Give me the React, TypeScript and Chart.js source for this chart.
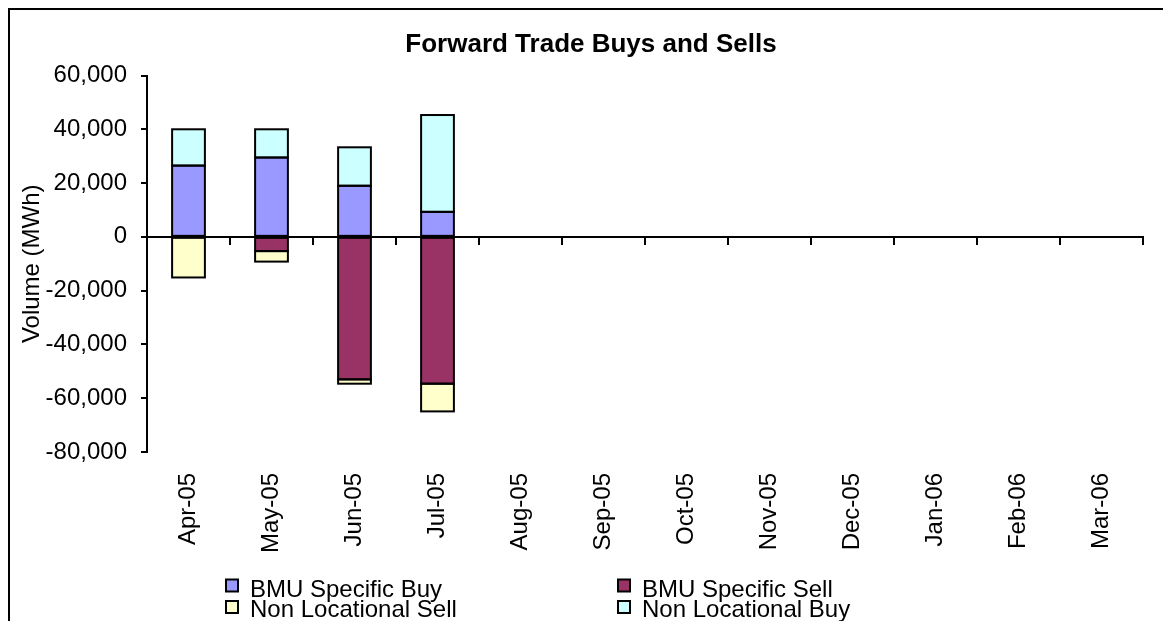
import React, { useEffect, useRef } from 'react';
import { Chart, registerables } from 'chart.js';

Chart.register(...registerables);

const chartTitle = 'Forward Trade Buys and Sells';
const yAxisTitle = 'Volume (MWh)';
const months = ['Apr-05', 'May-05', 'Jun-05', 'Jul-05', 'Aug-05', 'Sep-05', 'Oct-05', 'Nov-05', 'Dec-05', 'Jan-06', 'Feb-06', 'Mar-06'];
const bmuSpecificBuy = [26500, 29500, 19000, 9300, null, null, null, null, null, null, null, null];
const bmuSpecificSell = [0, -5300, -53000, -54600, null, null, null, null, null, null, null, null];
const nonLocationalSell = [-15100, -3900, -1600, -10300, null, null, null, null, null, null, null, null];
const nonLocationalBuy = [13500, 10500, 14300, 36000, null, null, null, null, null, null, null, null];
const seriesNames = ['BMU Specific Buy', 'BMU Specific Sell', 'Non Locational Sell', 'Non Locational Buy'];
const seriesColors = ['#9999FF', '#993366', '#FFFFCC', '#CCFFFF'];
const yMin = -80000;
const yMax = 60000;
const yStep = 20000;

const FONT = "'Liberation Sans', Arial, sans-serif";

const decorPlugin = {
  id: 'decor',
  beforeDraw(chart: any) {
    const ctx = chart.ctx;
    ctx.save();
    ctx.fillStyle = '#000';
    ctx.fillRect(0, 0, 2, chart.height);
    ctx.fillRect(0, 0, chart.width, 2);
    ctx.font = `bold 26px ${FONT}`;
    ctx.textAlign = 'center';
    ctx.textBaseline = 'alphabetic';
    ctx.fillText(chartTitle, 583, 44);
    ctx.restore();
  },
  afterDatasetsDraw(chart: any) {
    const ctx = chart.ctx;
    const area = chart.chartArea;
    ctx.save();
    ctx.strokeStyle = '#000';
    ctx.lineWidth = 2;
    // bar outlines, centred on the bar edges
    chart.data.datasets.forEach((ds: any, di: number) => {
      const meta = chart.getDatasetMeta(di);
      meta.data.forEach((el: any, i: number) => {
        const v = ds.data[i];
        if (v === null || v === undefined) return;
        const p = el.getProps(['x', 'y', 'base', 'width'], true);
        const h = Math.abs(p.base - p.y);
        if (h < 0.5) return;
        ctx.strokeRect(p.x - p.width / 2, Math.min(p.y, p.base), p.width, h);
      });
    });
    // horizontal axis at zero with category tick marks
    const y0 = Math.round(chart.scales.y.getPixelForValue(0));
    const n = chart.data.labels.length;
    const w = (area.right - area.left) / n;
    ctx.beginPath();
    ctx.moveTo(area.left, y0);
    ctx.lineTo(area.right + 1, y0);
    for (let i = 1; i <= n; i++) {
      const x = Math.round(area.left + i * w);
      ctx.moveTo(x, y0);
      ctx.lineTo(x, y0 + 8);
    }
    ctx.stroke();
    ctx.restore();
  },
  afterDraw(chart: any) {
    const ctx = chart.ctx;
    ctx.save();
    ctx.font = `24px ${FONT}`;
    ctx.textAlign = 'left';
    ctx.textBaseline = 'alphabetic';
    const boxX = [217, 609];
    const boxY = [570.5, 592];
    const textY = [588.7, 609.3];
    chart.data.datasets.forEach((ds: any, i: number) => {
      const col = i % 2;
      const row = Math.floor(i / 2);
      const bx = boxX[col];
      const by = boxY[row];
      ctx.fillStyle = ds.backgroundColor;
      ctx.fillRect(bx + 1, by + 1, 12, 12);
      ctx.strokeStyle = '#000';
      ctx.lineWidth = 2;
      ctx.strokeRect(bx + 1, by + 1, 12, 12);
      ctx.fillStyle = '#000';
      ctx.fillText(ds.label, bx + 25, textY[row]);
    });
    ctx.restore();
  },
};

export default function App() {
  const canvasRef = useRef<HTMLCanvasElement | null>(null);

  useEffect(() => {
    if (!canvasRef.current) return;
    const seriesData = [bmuSpecificBuy, bmuSpecificSell, nonLocationalSell, nonLocationalBuy];
    const chart = new Chart(canvasRef.current, {
      type: 'bar',
      data: {
        labels: months,
        datasets: seriesData.map((d, i) => ({
          label: seriesNames[i],
          data: d,
          backgroundColor: seriesColors[i],
          borderWidth: 0,
          categoryPercentage: 1,
          barPercentage: 0.395,
        })),
      },
      options: {
        responsive: false,
        animation: false,
        devicePixelRatio: 1,
        layout: { padding: { top: 67.5, right: 20, left: 0, bottom: 0 } },
        plugins: {
          legend: { display: false },
          title: { display: false },
          tooltip: { enabled: false },
        },
        scales: {
          x: {
            stacked: true,
            grid: { display: false, drawTicks: false },
            border: { display: false },
            ticks: {
              autoSkip: false,
              minRotation: 90,
              maxRotation: 90,
              padding: 21,
              color: '#000',
              font: { family: FONT, size: 24 },
            },
            afterFit: (scale: any) => {
              scale.height = 169;
            },
          },
          y: {
            stacked: true,
            min: yMin,
            max: yMax,
            grid: { display: true, drawOnChartArea: false, drawTicks: true, tickLength: 6, color: '#000', lineWidth: 2 },
            border: { display: true, color: '#000', width: 2 },
            ticks: {
              stepSize: yStep,
              padding: 14,
              color: '#000',
              font: { family: FONT, size: 24 },
              callback: (v: any) => Number(v).toLocaleString('en-US'),
            },
            title: {
              display: true,
              text: yAxisTitle,
              color: '#000',
              font: { family: FONT, size: 24 },
              padding: { top: 10, bottom: 0 },
            },
            afterFit: (scale: any) => {
              scale.width = 139;
            },
          },
        },
      },
      plugins: [decorPlugin],
    } as any);
    return () => chart.destroy();
  }, []);

  return (
    <div style={{ position: 'fixed', left: 8, top: 8, width: 1155, height: 613 }}>
      <canvas ref={canvasRef} width={1155} height={613} style={{ display: 'block', width: 1155, height: 613 }} />
    </div>
  );
}
